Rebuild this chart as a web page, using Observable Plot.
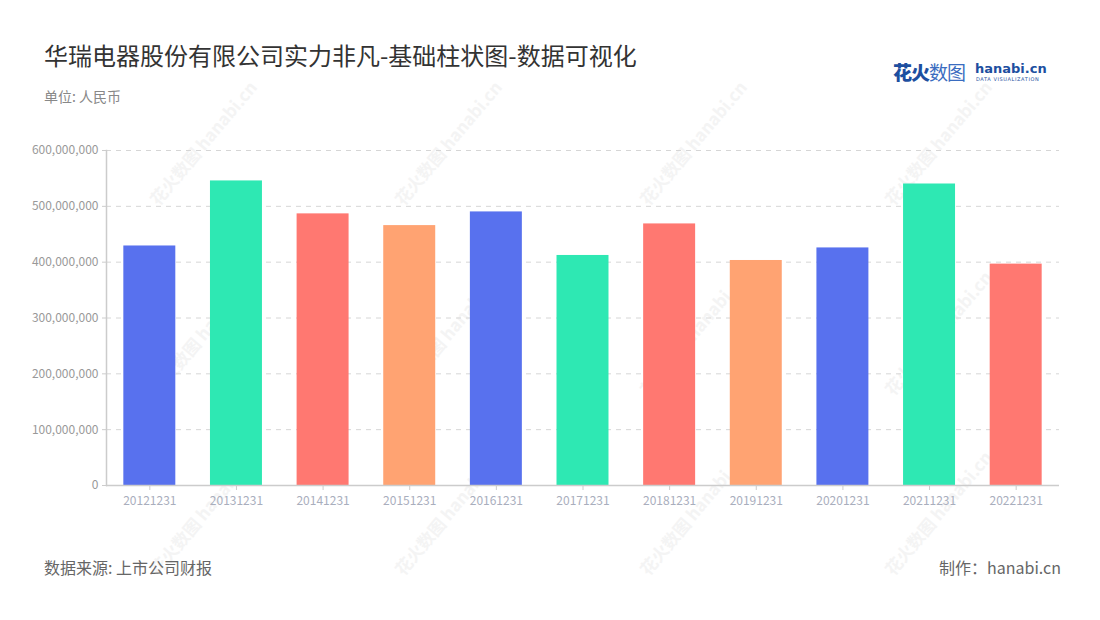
<!DOCTYPE html>
<html>
<head>
<meta charset="utf-8">
<script src="https://cdn.jsdelivr.net/npm/d3@7"></script>
<script src="https://cdn.jsdelivr.net/npm/@observablehq/plot@0.6"></script>
<style>
  html, body { margin: 0; padding: 0; background: #fff; }
  body { width: 1100px; height: 620px; position: relative; overflow: hidden;
         font-family: "Noto Sans CJK SC", "Noto Sans", sans-serif; }
  .abs { position: absolute; white-space: nowrap; }
  #title { left: 44px; top: 37px; font-size: 24px; color: #333; }
  #sub { left: 44px; top: 86px; font-size: 14px; color: #888; }
  #src { left: 44px; top: 555px; font-size: 16px; color: #666; }
  #made { right: 39px; top: 555px; font-size: 16px; color: #666; }
  #chart { position: absolute; left: 0; top: 120px; }
  .wm { position: absolute; color: #f4f4f4; font-size: 17px; font-weight: bold; transform: rotate(-50deg); white-space: nowrap; }
  .logo { position: absolute; white-space: nowrap; line-height: 1; }
</style>
</head>
<body>
<div id="wms"></div>
<div id="title" class="abs">华瑞电器股份有限公司实力非凡-基础柱状图-数据可视化</div>
<div id="sub" class="abs">单位: 人民币</div>
<div class="logo" style="left:893px;top:62px">
  <span style="font-size:19px;font-weight:900;color:#1d4fa0;letter-spacing:-1px">花火</span><span style="font-size:19px;color:#3a6cc0;letter-spacing:-1px">数图</span>
</div>
<div class="logo" style="left:975px;top:62px;font-size:13px;font-weight:bold;color:#1d4fa0;font-family:'DejaVu Sans'">hanabi.cn</div>
<div class="logo" style="left:976px;top:77px;font-size:5px;color:#1d4fa0;letter-spacing:0.6px;font-family:'DejaVu Sans'">DATA VISUALIZATION</div>
<div id="chart"></div>
<div id="src" class="abs">数据来源: 上市公司财报</div>
<div id="made" class="abs">制作：hanabi.cn</div>
<script>
const years = ["20121231","20131231","20141231","20151231","20161231","20171231","20181231","20191231","20201231","20211231","20221231"];
const values = [429000000, 545500000, 486500000, 465500000, 490000000, 412000000, 468500000, 403000000, 425500000, 540000000, 396500000];
const barColors = ["#5871ee","#2ee8b3","#ff7871","#ffa372","#5871ee","#2ee8b3","#ff7871","#ffa372","#5871ee","#2ee8b3","#ff7871"];
const yTicks = [0, 100000000, 200000000, 300000000, 400000000, 500000000, 600000000];

const data = years.map((y, i) => ({year: y, value: values[i]}));

// faint watermarks
const wms = document.getElementById("wms");
for (const x of [125, 370, 615, 860]) {
  for (const y of [130, 320, 500]) {
    const d = document.createElement("div");
    d.className = "wm";
    d.style.left = x + "px"; d.style.top = y + "px";
    d.textContent = "花火数图 hanabi.cn";
    wms.appendChild(d);
  }
}

const plot = Plot.plot({
  width: 1100,
  height: 420,
  marginLeft: 106,
  marginRight: 41,
  marginTop: 30,
  marginBottom: 55,
  style: {fontFamily: "'Noto Sans CJK SC', 'Noto Sans', sans-serif", fontSize: "12px", background: "transparent"},
  x: {domain: years, paddingInner: 0.4, paddingOuter: 0.2, round: false, label: null},
  y: {domain: [0, 600000000], label: null},
  color: {type: "ordinal", domain: years, range: barColors},
  marks: [
    Plot.gridY(yTicks.filter(d => d > 0), {stroke: "#d6d6d6", strokeOpacity: 1, strokeDasharray: "5,5"}),
    Plot.barY(data, {x: "year", y: "value", fill: "year"}),
    Plot.frame({anchor: "left", stroke: "#cccccc", strokeWidth: 1.5}),
    Plot.ruleY([0], {stroke: "#cccccc", strokeWidth: 1.5}),
    Plot.axisY({ticks: yTicks, tickFormat: d3.format(","), tickSize: 4, tickPadding: 4, stroke: "#cccccc", color: "#999", label: null}),
    Plot.axisX({tickSize: 5, tickPadding: 6, stroke: "#cccccc", color: "#a9aebd", label: null})
  ]
});
document.getElementById("chart").appendChild(plot);
</script>
</body>
</html>
